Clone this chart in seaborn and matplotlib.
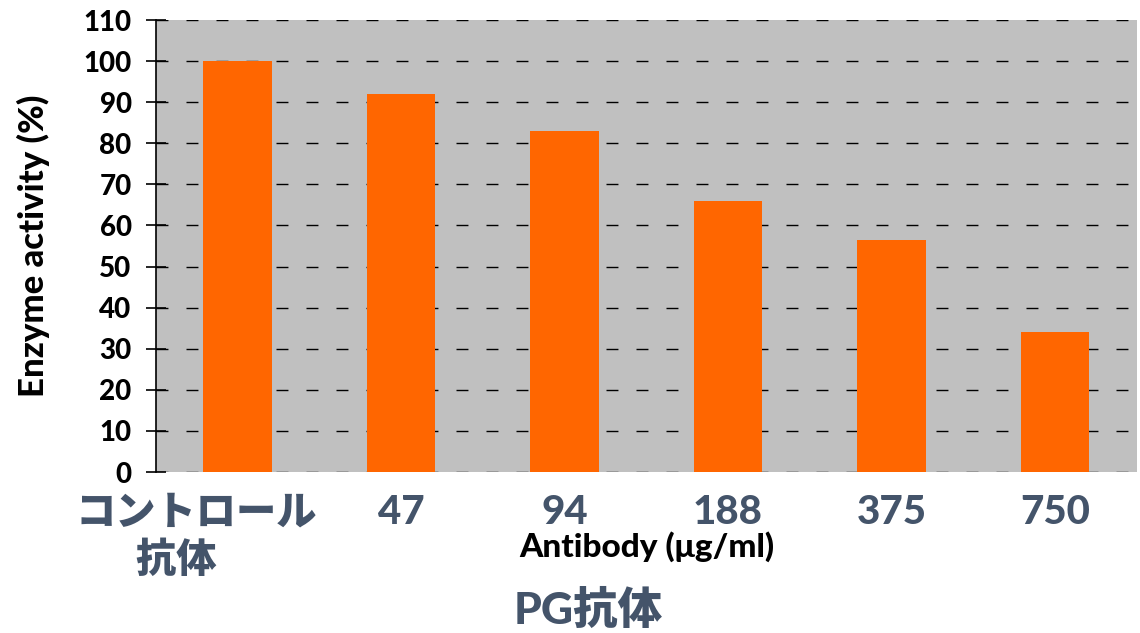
import matplotlib
matplotlib.use("Agg")
import matplotlib.pyplot as plt
from matplotlib.transforms import ScaledTranslation
import seaborn as sns
import pandas as pd

# Enzyme activity remaining after antibody treatment
categories = ["コントロール\n抗体\u3000", "47", "94", "188", "375", "750"]
activity = [100, 92, 83, 66, 56.5, 34]
yticks = list(range(0, 111, 10))

df = pd.DataFrame({"antibody": categories, "activity": activity})

sns.set_theme(style="white")
plt.rcParams["font.family"] = ["Lato", "Noto Sans CJK JP", "DejaVu Sans"]

fig = plt.figure(figsize=(11.4, 6.33), dpi=100)
ax = fig.add_axes([0.1368, 0.2543, 0.8602, 0.7141])
ax.set_facecolor("#c0c0c0")

sns.barplot(data=df, x="antibody", y="activity", order=categories,
            color="#ff6600", saturation=1, width=0.42, linewidth=0,
            ax=ax, zorder=3)

ax.set_xlim(-0.5, 5.5)
ax.set_ylim(0, 110)
ax.set_yticks(yticks)
ax.set_yticklabels([str(v) for v in yticks], fontsize=20, fontweight=900,
                   color="black")

# dashed horizontal gridlines
ax.yaxis.grid(True, color="black", linewidth=1.0, dashes=(8.6, 13), zorder=1)
ax.xaxis.grid(False)
ax.set_axisbelow(True)

for side in ["top", "right", "bottom"]:
    ax.spines[side].set_visible(False)
ax.spines["left"].set_color("black")
ax.spines["left"].set_linewidth(1.2)

ax.tick_params(axis="y", which="major", direction="inout", length=15,
               width=1.2, color="black", left=True, pad=10)
ax.tick_params(axis="x", length=0, pad=16)

for lab in ax.get_xticklabels():
    lab.set_fontsize(29)
    lab.set_fontweight(900)
    lab.set_color("#44546a")
    lab.set_multialignment("center")
    lab.set_verticalalignment("top")

first = ax.get_xticklabels()[0]
first.set_linespacing(1.3)
first.set_transform(first.get_transform()
                    + ScaledTranslation(-0.41, 0, fig.dpi_scale_trans))

ax.set_xlabel("")
ax.set_ylabel("Enzyme activity (%)", fontsize=25, fontweight=900,
              color="black")
ax.yaxis.set_label_coords(-0.108, 0.50)

fig.text(647 / 1140, 1 - 547 / 633, "Antibody (μg/ml)", ha="center",
         va="center", fontsize=24, fontweight=900, color="black")
fig.text(588 / 1140, 1 - 610 / 633, "PG抗体", ha="center", va="center",
         fontsize=32, fontweight=900, color="#44546a")

fig.savefig("out.png", dpi=100)
